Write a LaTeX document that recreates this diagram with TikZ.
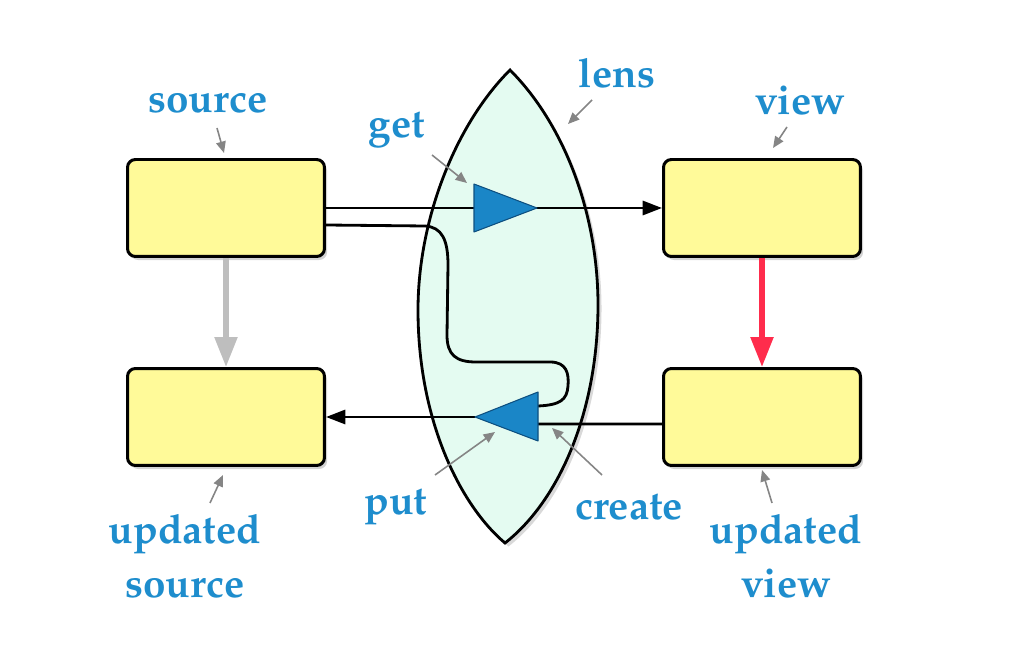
\documentclass[tikz,border=0pt]{standalone}
\usepackage[T1]{fontenc}
\usepackage{mathpazo}
\usepackage{tikz}
\usetikzlibrary{arrows.meta,shadows}
\definecolor{BoxYellow}{HTML}{FFFA99}
\definecolor{LensMint}{HTML}{E4FBF1}
\definecolor{LabelBlue}{HTML}{1E8DCD}
\definecolor{TriBlue}{HTML}{1A86C7}
\definecolor{TriEdge}{HTML}{0D4F80}
\definecolor{UpdRed}{HTML}{FF2C4C}
\definecolor{UpdGray}{HTML}{BEBEBE}
\definecolor{PtrGray}{HTML}{858585}
\tikzset{
  databox/.style={draw=black,fill=BoxYellow,rounded corners=4.5pt,line width=1.7pt,
    minimum width=3.94cm,minimum height=1.94cm,
    drop shadow={opacity=0.35,shadow xshift=1.5pt,shadow yshift=-2pt}},
  lbl/.style={font=\fontsize{23}{31}\selectfont\bfseries\color{LabelBlue},
    align=center,inner sep=1pt},
  ptr/.style={draw=PtrGray,line width=0.9pt,-{Triangle[length=6.5pt,width=5.5pt]}},
  flow/.style={draw=black,line width=1.6pt},
  flowA/.style={flow,-{Triangle[length=11pt,width=8pt]}},
  upd/.style={line width=3pt,-{Triangle[length=17pt,width=12.5pt]}},
  lensshape/.style={draw=black,fill=LensMint,line width=1.6pt,
    drop shadow={opacity=0.3,shadow xshift=2pt,shadow yshift=-2pt}},
  tri/.style={draw=TriEdge,fill=TriBlue,line width=0.6pt,line join=round},
}
\begin{document}
\begin{tikzpicture}[x=0.02cm,y=-0.02cm]
  \useasboundingbox (0,0) rectangle (1018,658);
  \draw[lensshape] (510,70) .. controls (455,125) and (418,220) .. (418,310)
    .. controls (418,420) and (460,505) .. (505,543)
    .. controls (560,500) and (598,410) .. (598,305)
    .. controls (598,215) and (565,125) .. (510,70) -- cycle;
  \node[databox] (src) at (226,208) {};
  \node[databox] (view) at (762,208) {};
  \node[databox] (usrc) at (226,417) {};
  \node[databox] (uview) at (762,417) {};
  \coordinate (getA) at (474,184);
  \coordinate (getB) at (474,232);
  \coordinate (getT) at (537,208);
  \coordinate (putA) at (538,392);
  \coordinate (putB) at (538,441);
  \coordinate (putT) at (475,417);
  \coordinate (putIn) at (538,424);
  \coordinate (putBack) at (538,406);
  \draw[flowA] (src.east) -- (view.west);
  \draw[flow] ([yshift=-0.34cm]src.east) -- (425,226)
    .. controls (442,227) and (448,240) .. (448,265) -- (447,335)
    .. controls (447,355) and (456,362) .. (476,362) -- (550,362)
    .. controls (567,362) and (569,374) .. (568,386)
    .. controls (567,400) and (560,405) .. (putBack);
  \draw[flow] ([yshift=-0.14cm]uview.west) -- (putIn);
  \draw[flowA] (putT) -- (usrc.east);
  \draw[tri] (getA) -- (getT) -- (getB) -- cycle;
  \draw[tri] (putA) -- (putT) -- (putB) -- cycle;
  \draw[upd,draw=UpdGray,fill=UpdGray] (src.south) -- (usrc.north);
  \draw[upd,draw=UpdRed,fill=UpdRed] (view.south) -- (uview.north);
  \node[lbl] (srcL) at (208,103) {source};
  \node[lbl] (lensL) at (617,73) {lens};
  \node[lbl] (viewL) at (800,101) {view};
  \node[lbl] (getL) at (397,130) {get};
  \node[lbl] (putL) at (396,507) {put};
  \node[lbl] (createL) at (629,507) {create};
  \node[lbl] (usrcL) at (185,556) {updated\\source};
  \node[lbl] (uviewL) at (786,556) {updated\\view};
  \coordinate (srcP) at (224,153);
  \coordinate (lensP) at (568,124);
  \coordinate (viewP) at (773,148);
  \coordinate (getP) at (467,183);
  \coordinate (putP) at (495,432);
  \coordinate (createP) at (552,428);
  \coordinate (usrcP) at (223,475);
  \coordinate (uviewP) at (762,470);
  \draw[ptr] (217,128) -- (srcP);
  \draw[ptr] (592,100) -- (lensP);
  \draw[ptr] (787,127) -- (viewP);
  \draw[ptr] (432,155) -- (getP);
  \draw[ptr] (435,475) -- (putP);
  \draw[ptr] (602,475) -- (createP);
  \draw[ptr] (210,503) -- (usrcP);
  \draw[ptr] (772,503) -- (uviewP);
\end{tikzpicture}
\end{document}
